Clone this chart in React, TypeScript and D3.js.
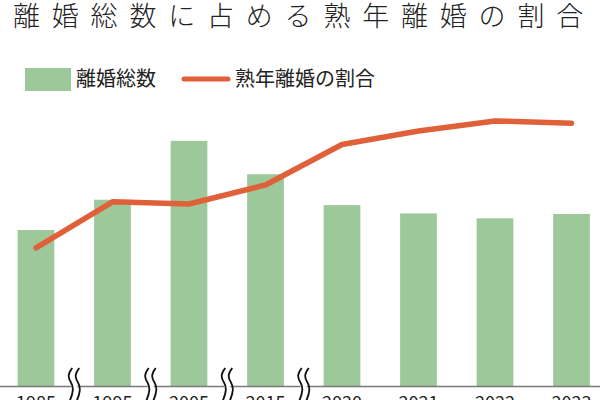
import React, { useEffect, useRef } from 'react';
import * as d3 from 'd3';

const years = ['1985', '1995', '2005', '2015', '2020', '2021', '2022', '2023'];
const divorceTotals = [166640, 199016, 261917, 226238, 193253, 184384, 179099, 183814];
const seniorShare = [12.3, 16.4, 16.2, 17.9, 21.5, 22.7, 23.6, 23.4];
const breakAfter = ['1985', '1995', '2005', '2015'];

const W = 600;
const H = 400;
const FONT = '"Noto Sans CJK JP", "Noto Sans", sans-serif';
const GREEN = '#9dc89a';
const ORANGE = '#e0603a';

export default function App() {
  const svgRef = useRef<SVGSVGElement>(null);

  useEffect(() => {
    if (!svgRef.current) return;
    const svg = d3.select(svgRef.current);
    svg.selectAll('*').remove();

    const baseY = 386;
    const topY = 105.2;

    const x = d3.scaleBand<string>().domain(years).range([-2.25, 609.75]).paddingInner(0.52).paddingOuter(0.26);
    const y = d3.scaleLinear().domain([0, 300000]).range([baseY, topY]);
    const y2 = d3.scaleLinear().domain([0, 25]).range([baseY, topY]);

    // title
    svg.append('text')
      .attr('x', 13).attr('y', 26)
      .attr('font-family', FONT).attr('font-size', 27).attr('font-weight', 300)
      .attr('letter-spacing', 11.8).attr('fill', '#222')
      .text('離婚総数に占める熟年離婚の割合');

    // legend
    const lg = svg.append('g');
    lg.append('rect').attr('x', 25).attr('y', 68).attr('width', 46).attr('height', 23).attr('fill', GREEN);
    lg.append('text').attr('x', 76).attr('y', 86).attr('font-family', FONT).attr('font-size', 20).attr('fill', '#222').text('離婚総数');
    lg.append('line').attr('x1', 184).attr('x2', 228).attr('y1', 79).attr('y2', 79)
      .attr('stroke', ORANGE).attr('stroke-width', 5).attr('stroke-linecap', 'round');
    lg.append('text').attr('x', 235).attr('y', 86).attr('font-family', FONT).attr('font-size', 20).attr('fill', '#222').text('熟年離婚の割合');

    // bars
    svg.append('g').selectAll('rect')
      .data(years)
      .enter()
      .append('rect')
      .attr('x', d => x(d)!)
      .attr('width', x.bandwidth())
      .attr('y', (d, i) => y(divorceTotals[i]))
      .attr('height', (d, i) => baseY - y(divorceTotals[i]))
      .attr('fill', GREEN);

    // axis line
    svg.append('line').attr('x1', 0).attr('x2', W).attr('y1', baseY + 0.5).attr('y2', baseY + 0.5)
      .attr('stroke', '#7a7a7a').attr('stroke-width', 1.3);

    // share line
    const lineGen = d3.line<number>()
      .x((d, i) => x(years[i])! + x.bandwidth() / 2)
      .y(d => y2(d));
    svg.append('path')
      .datum(seniorShare)
      .attr('fill', 'none')
      .attr('stroke', ORANGE)
      .attr('stroke-width', 5.5)
      .attr('stroke-linecap', 'round')
      .attr('stroke-linejoin', 'round')
      .attr('d', lineGen);

    // year labels
    svg.append('g').selectAll('text')
      .data(years)
      .enter()
      .append('text')
      .attr('x', d => x(d)! + x.bandwidth() / 2)
      .attr('y', 409)
      .attr('text-anchor', 'middle')
      .attr('font-family', FONT).attr('font-size', 18).attr('fill', '#222')
      .text(d => d);

    // break marks between gaps
    const wave = (cx: number) => {
      const y0 = 368;
      return `M${cx + 1.5},${y0} C${cx - 3},${y0 + 6} ${cx - 3},${y0 + 9} ${cx},${y0 + 14}`
        + ` S${cx + 3},${y0 + 24} ${cx - 1.5},${y0 + 34}`;
    };
    breakAfter.forEach(yr => {
      const i = years.indexOf(yr);
      const cx = (x(yr)! + x.bandwidth() + x(years[i + 1])!) / 2;
      const g = svg.append('g');
      g.append('rect').attr('x', cx - 3).attr('y', 366).attr('width', 6).attr('height', 36).attr('fill', '#fff');
      g.append('path').attr('d', wave(cx - 3.5)).attr('fill', 'none').attr('stroke', '#111').attr('stroke-width', 1.8);
      g.append('path').attr('d', wave(cx + 3.5)).attr('fill', 'none').attr('stroke', '#111').attr('stroke-width', 1.8);
    });
  }, []);

  return (
    <svg ref={svgRef} width={W} height={H}
      style={{ position: 'fixed', left: 0, top: 0, background: '#fff' }} />
  );
}
